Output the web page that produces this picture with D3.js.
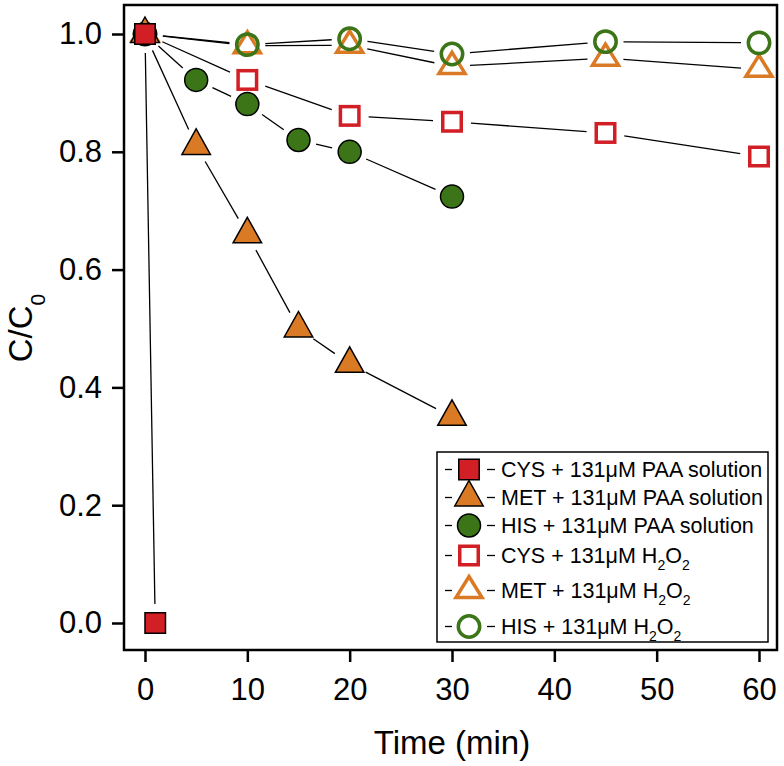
<!DOCTYPE html>
<html><head><meta charset="utf-8">
<script src="https://cdn.jsdelivr.net/npm/d3@7"></script>
<style>body{margin:0;background:#fff} text{font-family:"Liberation Sans",Arial,sans-serif;fill:#000}</style>
</head><body><svg id="c" width="784" height="766"></svg>
<script>
// ---- data ----
const xTicks = [0, 10, 20, 30, 40, 50, 60];
const yTicks = [0.0, 0.2, 0.4, 0.6, 0.8, 1.0];
const tCysPaa = [0, 1];
const cysPaa  = [1.0, 0.0];
const tPaa    = [0, 5, 10, 15, 20, 30];
const metPaa  = [1.0, 0.81, 0.66, 0.50, 0.44, 0.35];
const hisPaa  = [1.0, 0.922, 0.881, 0.820, 0.800, 0.724];
const tH2o2   = [0, 10, 20, 30, 45, 60];
const cysH2o2 = [1.0, 0.922, 0.861, 0.851, 0.832, 0.792];
const metH2o2 = [1.0, 0.980, 0.981, 0.945, 0.959, 0.940];
const hisH2o2 = [1.0, 0.982, 0.992, 0.966, 0.987, 0.985];
const legendLabels = [
  ["CYS + 131μM PAA solution"],
  ["MET + 131μM PAA solution"],
  ["HIS + 131μM PAA solution"],
  ["CYS + 131μM H", "2", "O", "2"],
  ["MET + 131μM H", "2", "O", "2"],
  ["HIS + 131μM H", "2", "O", "2"]
];
const xLabel = "Time (min)";

const RED = "#D21E25", ORANGE = "#DB7A25", GREEN = "#3B7518";
const series = [
  {t: tCysPaa, v: cysPaa,  shape: "square",   filled: true,  color: RED},
  {t: tPaa,    v: metPaa,  shape: "triangle", filled: true,  color: ORANGE},
  {t: tPaa,    v: hisPaa,  shape: "circle",   filled: true,  color: GREEN},
  {t: tH2o2,   v: cysH2o2, shape: "square",   filled: false, color: RED},
  {t: tH2o2,   v: metH2o2, shape: "triangle", filled: false, color: ORANGE},
  {t: tH2o2,   v: hisH2o2, shape: "circle",   filled: false, color: GREEN}
];
const drawOrder = [4, 5, 3, 2, 1, 0];

const svg = d3.select("#c");
const x = d3.scaleLinear().domain([0, 60]).range([145, 759]);
const y = d3.scaleLinear().domain([0, 1]).range([623, 34]);
const L = 124, R = 777, T = 5, B = 650;

function marker(g, s, cx, cy) {
  let el;
  if (s.shape === "square") {
    const a = s.filled ? 20.5 : 18.5;
    el = g.append("rect").attr("x", cx - a/2).attr("y", cy - a/2).attr("width", a).attr("height", a);
  } else if (s.shape === "circle") {
    el = g.append("circle").attr("cx", cx).attr("cy", cy).attr("r", s.filled ? 11.5 : 10.7);
  } else {
    const w = s.filled ? 28.5 : 26, h = s.filled ? 25.5 : 21;
    el = g.append("path").attr("d",
      `M${cx},${cy - 2*h/3}L${cx + w/2},${cy + h/3}L${cx - w/2},${cy + h/3}Z`)
      .attr("stroke-linejoin", "miter");
  }
  if (s.filled) el.attr("fill", s.color).attr("stroke", "#000").attr("stroke-width", 1.5);
  else el.attr("fill", "none").attr("stroke", s.color).attr("stroke-width", 3.5);
}

// lines with gaps
const lineG = svg.append("g").attr("stroke", "#000").attr("stroke-width", 1.3);
series.forEach(s => {
  const gap = s.shape === "square" ? 19 : 18;
  for (let i = 0; i < s.t.length - 1; i++) {
    const x1 = x(s.t[i]), y1 = y(s.v[i]), x2 = x(s.t[i+1]), y2 = y(s.v[i+1]);
    const d = Math.hypot(x2 - x1, y2 - y1);
    if (d <= 2 * gap) continue;
    const ux = (x2 - x1) / d, uy = (y2 - y1) / d;
    lineG.append("line")
      .attr("x1", x1 + ux*gap).attr("y1", y1 + uy*gap)
      .attr("x2", x2 - ux*gap).attr("y2", y2 - uy*gap);
  }
});

// markers
const mG = svg.append("g");
drawOrder.forEach(k => {
  const s = series[k];
  s.t.forEach((t, i) => marker(mG, s, x(t), y(s.v[i])));
});

// frame
svg.append("rect").attr("x", L).attr("y", T).attr("width", R - L).attr("height", B - T)
  .attr("fill", "none").attr("stroke", "#000").attr("stroke-width", 2.5);

// axes
const yAx = svg.append("g").attr("transform", `translate(${L},0)`)
  .call(d3.axisLeft(y).tickValues(yTicks).tickSize(12).tickPadding(10).tickFormat(d3.format(".1f")));
const xAx = svg.append("g").attr("transform", `translate(0,${B})`)
  .call(d3.axisBottom(x).tickValues(xTicks).tickSize(12).tickPadding(16).tickFormat(d3.format("d")));
[yAx, xAx].forEach(a => {
  a.select(".domain").remove();
  a.selectAll(".tick line").attr("stroke", "#000").attr("stroke-width", 2.5);
  a.selectAll(".tick text").attr("font-size", 31).attr("font-family", '"Liberation Sans",Arial,sans-serif').attr("fill", "#000");
});

// axis titles
svg.append("text").attr("x", 452).attr("y", 754).attr("text-anchor", "middle")
  .attr("font-size", 33).text(xLabel);
const yl = svg.append("text").attr("transform", "translate(32,328) rotate(-90)")
  .attr("text-anchor", "middle").attr("font-size", 33);
yl.append("tspan").text("C/C");
yl.append("tspan").attr("font-size", 21).attr("dy", 13).text("0");

// legend
const lg = svg.append("g");
lg.append("rect").attr("x", 437).attr("y", 452).attr("width", 331).attr("height", 190)
  .attr("fill", "#fff").attr("stroke", "#000").attr("stroke-width", 1.5);
const rowBase = [477, 505, 533, 563, 598, 634];
legendLabels.forEach((lab, i) => {
  const s = series[i], by = rowBase[i], cy = by - 7.5;
  lg.append("line").attr("x1", 445).attr("x2", 452).attr("y1", cy).attr("y2", cy).attr("stroke", "#000").attr("stroke-width", 1.3);
  lg.append("line").attr("x1", 487).attr("x2", 495).attr("y1", cy).attr("y2", cy).attr("stroke", "#000").attr("stroke-width", 1.3);
  marker(lg, s, 469, cy);
  const tx = lg.append("text").attr("x", 501).attr("y", by).attr("font-size", 21.5);
  lab.forEach((p, j) => {
    const ts = tx.append("tspan").text(p);
    if (j % 2 === 1) ts.attr("font-size", 14).attr("dy", 7);
    else if (j > 0) ts.attr("dy", -7);
  });
});
</script></body></html>
